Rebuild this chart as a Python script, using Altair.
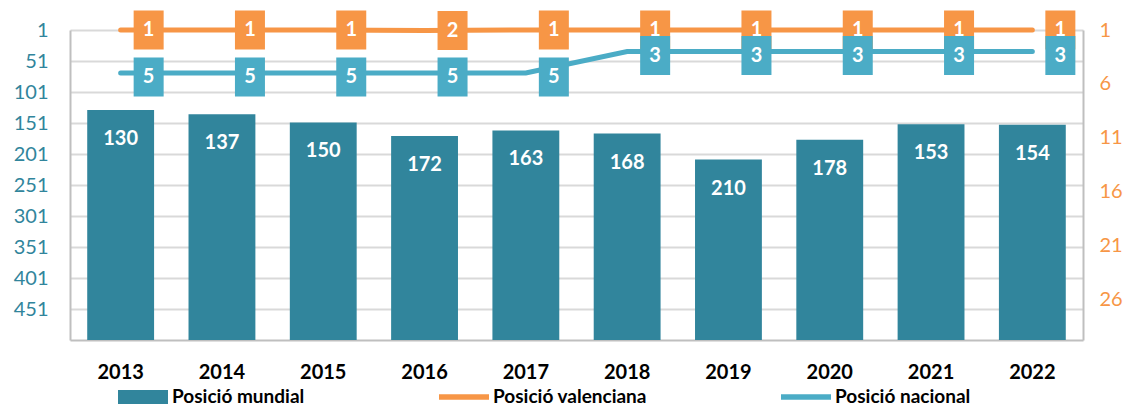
import altair as alt
import pandas as pd

# ---- data ----
years = ["2013", "2014", "2015", "2016", "2017", "2018", "2019", "2020", "2021", "2022"]
mundial = [130, 137, 150, 172, 163, 168, 210, 178, 153, 154]
valenciana = [1, 1, 1, 2, 1, 1, 1, 1, 1, 1]
nacional = [5, 5, 5, 5, 5, 3, 3, 3, 3, 3]
left_ticks = [1, 51, 101, 151, 201, 251, 301, 351, 401, 451]
right_ticks = [1, 6, 11, 16, 21, 26]
series_names = ["Posició mundial", "Posició valenciana", "Posició nacional"]

FONT = "Lato"
C_BAR = "#31859C"
C_VAL = "#F79646"
C_NAC = "#4BACC6"
GRID = "#D9D9D9"
AXIS = "#BFBFBF"
BOX = "M-1,-1.3L1,-1.3L1,1.3L-1,1.3Z"
SW_BAR = "M-1,-0.28L1,-0.28L1,0.28L-1,0.28Z"
SW_LINE = "M-1,-0.11L1,-0.11L1,0.11L-1,0.11Z"

bars_df = pd.DataFrame({"year": years, "rank": mundial, "series": series_names[0]})
val_df = pd.DataFrame({"year": years, "rank": valenciana})
nac_df = pd.DataFrame({"year": years, "rank": nacional})

x = alt.X(
    "year:N",
    sort=years,
    scale=alt.Scale(paddingInner=0.34, paddingOuter=0.17),
    axis=alt.Axis(title=None, labelAngle=0, labelFont=FONT, labelFontSize=20,
                  labelFontWeight="bold", labelColor="#000000", labelPadding=22,
                  ticks=False, grid=False, domainColor=AXIS, domainWidth=2),
)

y_left = alt.Y(
    "rank:Q",
    scale=alt.Scale(domain=[1, 501], reverse=True, nice=False, zero=False),
    axis=alt.Axis(orient="left", values=left_ticks, title=None, grid=True,
                  gridColor=GRID, gridWidth=2, ticks=False, labelPadding=22,
                  labelFont=FONT, labelFontSize=20, labelColor=C_BAR,
                  domainColor=AXIS, domainWidth=2),
)

y_right = alt.Y(
    "rank:Q",
    scale=alt.Scale(domain=[1, 29.8], reverse=True, nice=False, zero=False),
    axis=alt.Axis(orient="right", values=right_ticks, title=None, grid=False,
                  ticks=False, labelPadding=16, labelFont=FONT, labelFontSize=20,
                  labelColor=C_VAL, domainColor=AXIS, domainWidth=2),
)

legend = alt.Legend(
    title=None, orient="none", legendX=48, legendY=342, direction="horizontal",
    labelFont=FONT, labelFontSize=19, labelFontWeight="bold", labelColor="#000000",
    labelLimit=400, symbolSize=2500, symbolStrokeWidth=0, labelOffset=4,
    columnPadding=134, symbolOpacity=1,
    symbolType={"expr": "datum.value === 'Posició mundial' ? '" + SW_BAR + "' : '" + SW_LINE + "'"},
)

bars = alt.Chart(bars_df).mark_bar(opacity=1).encode(
    x=x,
    y=y_left,
    y2=alt.datum(501),
    color=alt.Color("series:N", scale=alt.Scale(domain=series_names, range=[C_BAR, C_VAL, C_NAC]),
                    legend=legend),
)
bar_text = alt.Chart(bars_df).mark_text(
    dy=29, baseline="middle", font=FONT, fontSize=20, fontWeight="bold", color="#FFFFFF"
).encode(x=x, y=y_left, text="rank:Q")


def series_layers(df, y, color, yoff):
    line = alt.Chart(df).mark_line(color=color, strokeWidth=5, strokeCap="round").encode(x=x, y=y)
    box = alt.Chart(df).mark_point(shape=BOX, size=900, filled=True, opacity=1, color=color,
                                   strokeWidth=0, xOffset=28, yOffset=yoff).encode(x=x, y=y)
    txt = alt.Chart(df).mark_text(xOffset=28, yOffset=yoff, baseline="middle", font=FONT,
                                  fontSize=20, fontWeight="bold", color="#FFFFFF").encode(
        x=x, y=y, text="rank:Q")
    return line, box, txt


vl, vb, vt = series_layers(val_df, y_left, C_VAL, 0)
nl, nb, nt = series_layers(nac_df, y_right, C_NAC, 4)

left_layer = alt.layer(bars, bar_text, vl, vb, vt)
right_layer = alt.layer(nl, nb, nt)

chart = alt.layer(left_layer, right_layer).resolve_scale(y="independent").properties(
    width=1013, height=310,
    autosize=alt.AutoSizeParams(type="none"),
    padding={"left": 62, "top": 22, "right": 41, "bottom": 68},
).configure_view(stroke=None)

chart.save("out.html", embed_options={"renderer": "svg", "actions": False})
